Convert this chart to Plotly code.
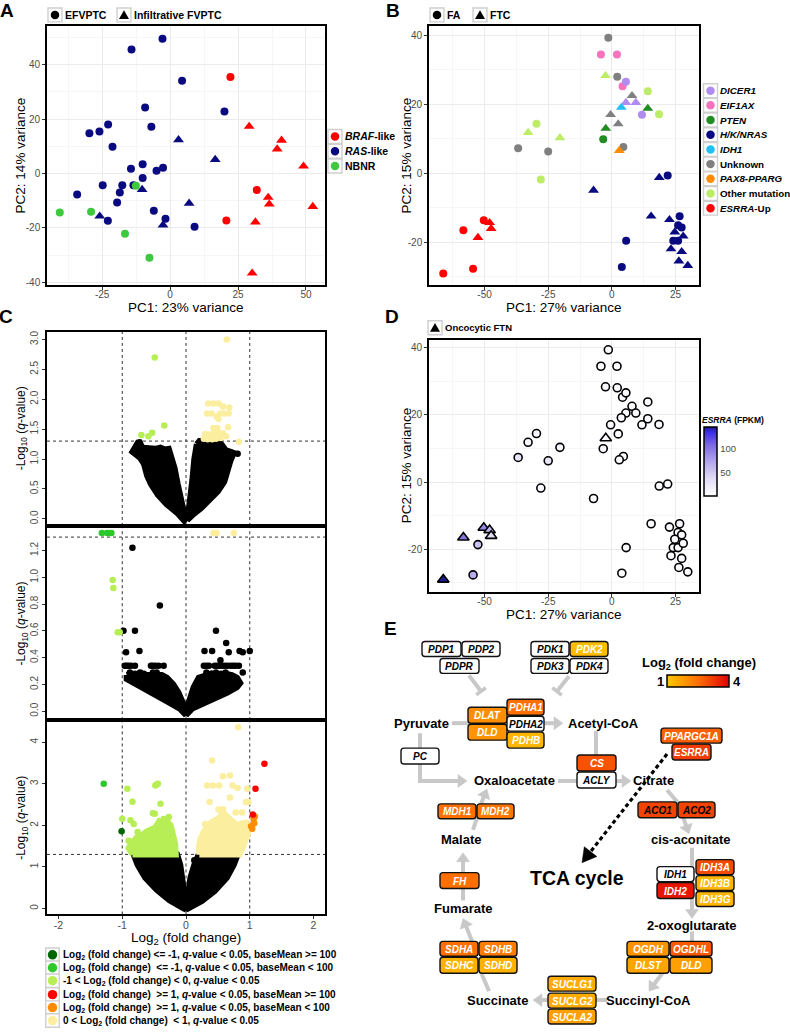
import math
import plotly.graph_objects as go
from plotly.colors import sample_colorscale

W, H = 790, 1033
FONT = "Liberation Sans, Arial, Helvetica, sans-serif"

# ======================= DATA =======================
# ---- Panel A: PCA of FVPTC samples ----
a_pc1 = [-2.8, -14.2, 4.4, 20.0, -9.2, -6.9, -22.8, -26.0, -29.7, -21.2, -10.1, -14.4, -2.6, -5.0,
         -10.1, -24.8, -17.6, -13.5, -18.5, -34.2, -19.5, -6.0, -22.9, -1.7, 9.0,
         3.1, 16.6, -10.3, 7.0, -25.9, -2.6,
         22.2, 31.9, 20.7,
         29.1, 41.0, 39.4, 49.1, 36.1, 36.5, 52.5, 31.4, 30.2,
         -40.6, -29.1, -12.6, -16.6, -7.6]
a_pc2 = [49.6, 45.6, 34.1, 22.8, 24.3, 17.2, 18.0, 15.4, 14.8, 9.8, 3.4, 1.7, 2.1, 1.0,
         -1.7, -4.3, -4.3, -4.3, -7.0, -7.7, -10.7, -13.7, -17.4, -16.7, -19.6,
         12.4, 5.1, -5.9, -11.0, -15.7, -19.0,
         35.5, -6.1, -17.3,
         17.3, 12.2, 9.0, 2.7, -8.8, -11.3, -12.2, -17.9, -36.7,
         -14.4, -14.1, -4.5, -22.2, -31.0]
a_class = ["RAS"] * 31 + ["BRAF"] * 12 + ["NBNR"] * 5
a_type = (["EFVPTC"] * 25 + ["Infiltrative FVPTC"] * 6 + ["EFVPTC"] * 3
          + ["Infiltrative FVPTC"] * 9 + ["EFVPTC"] * 5)
a_class_order = ["BRAF", "RAS", "NBNR"]
a_class_labels = ["<b><i>BRAF</i>-like</b>", "<b><i>RAS</i>-like</b>", "<b>NBNR</b>"]
a_type_labels = ["EFVPTC", "Infiltrative FVPTC"]

# ---- Panels B / D: PCA of FA / FTC samples ----
b_pc1 = [-1.4, 2.1, -36.8, -25.0, 4.5, 7.9, -0.5, 2.5,
         -4.3, 2.0, 4.2,
         5.5, 11.8, 5.5, 9.4,
         14.1, 18.5, -29.6, -27.9, -2.5, -32.9, -20.4,
         3.7,
         14.1, -2.4, -3.4,
         2.9,
         21.9, 26.6, 26.0, 27.4, 24.1, 26.0, 5.6, 3.9,
         18.6, -7.2, 15.4, 22.6, 24.7, 28.0, 23.2, 27.4, 26.3, 29.8,
         -58.3, -50.3, -66.2, -54.5,
         -52.6, -48.0, -47.4]
b_pc2 = [39.3, 28.0, 7.3, 6.3, 7.6, 22.5, 17.0, 14.3,
         34.4, 34.4, 25.2,
         26.5, 17.0, 20.5, 20.5,
         23.8, 17.1, 14.4, -1.8, 28.3, 11.8, 10.3,
         19.1,
         18.8, 13.0, 9.9,
         6.6,
         -0.6, -12.4, -15.0, -15.7, -19.5, -19.5, -19.5, -27.1,
         -1.2, -4.9, -12.4, -13.4, -17.0, -18.2, -21.9, -22.7, -25.4, -26.7,
         -16.5, -13.6, -29.0, -27.6,
         -18.6, -14.3, -16.0]
b_group = (["Unknown"] * 8 + ["EIF1AX"] * 3 + ["DICER1"] * 4 + ["Other mutation"] * 7 + ["IDH1"]
           + ["PTEN"] * 3 + ["PAX8-PPARG"] + ["H/K/NRAS"] * 18 + ["ESRRA-Up"] * 7)
b_type = (["FA"] * 5 + ["FTC"] * 3 + ["FA"] * 3 + ["FA", "FA", "FTC", "FTC"] + ["FA"] * 4 + ["FTC"] * 3
          + ["FTC"] + ["FTC", "FTC", "FA"] + ["FTC"] + ["FA"] * 8 + ["FTC"] * 10 + ["FA"] * 4 + ["FTC"] * 3)
d_oncocytic = [0] * 24 + [1] + [0] * 20 + [1, 1, 1, 0, 0, 1, 1]
d_esrra_fpkm = ([5, 5, 28, 26, 5, 5, 5, 5, 5, 5, 5, 5, 5, 5, 5, 5, 5, 8, 5, 5, 8, 8, 5, 5, 5, 5, 5]
                + [5] * 18 + [100, 90, 145, 68, 55, 60, 35])
b_group_order = ["DICER1", "EIF1AX", "PTEN", "H/K/NRAS", "IDH1", "Unknown", "PAX8-PPARG",
                 "Other mutation", "ESRRA-Up"]
b_group_labels = ["<b><i>DICER1</i></b>", "<b><i>EIF1AX</i></b>", "<b><i>PTEN</i></b>",
                  "<b><i>H/K/NRAS</i></b>", "<b><i>IDH1</i></b>", "<b>Unknown</b>",
                  "<b><i>PAX8-PPARG</i></b>", "<b>Other mutation</b>", "<b><i>ESRRA</i>-Up</b>"]

# ---- Panel C: volcano plots (dense regions as outlines + individual points) ----
c1_black_left_x = [-0.74, -0.68, -0.58, -0.48, -0.40, -0.33, -0.27, -0.22, -0.18, -0.13, -0.08, -0.04, -0.01,
                   -0.03, -0.14, -0.30, -0.44, -0.55, -0.61, -0.66, -0.72, -0.84, -0.80]
c1_black_left_y = [1.30, 1.19, 1.18, 1.17, 1.19, 1.16, 1.17, 1.02, 0.85, 0.58, 0.32, 0.12, 0.00,
                   -0.03, 0.10, 0.24, 0.40, 0.58, 0.72, 0.92, 1.02, 1.12, 1.20]
c1_black_right_x = [0.17, 0.21, 0.30, 0.40, 0.50, 0.56, 0.62, 0.70, 0.75, 0.70, 0.66, 0.60, 0.50, 0.38,
                    0.24, 0.10, 0.02, 0.04, 0.07, 0.10, 0.13]
c1_black_right_y = [1.25, 1.30, 1.30, 1.30, 1.29, 1.24, 1.15, 1.12, 1.10, 0.98, 0.80, 0.62, 0.46, 0.32,
                    0.18, 0.06, -0.02, 0.12, 0.35, 0.65, 1.00]
c1_black_x = [-0.73, -0.82, 0.81, 0.70]
c1_black_y = [1.28, 1.12, 1.09, 1.11]
c1_ltgreen_x = [-0.49, -0.34, -0.53, -0.59, -0.70]
c1_ltgreen_y = [2.70, 1.56, 1.44, 1.38, 1.40]
c1_ltyellow_x = [0.64, 0.35, 0.43, 0.51, 0.58, 0.68, 0.33, 0.40, 0.48, 0.54, 0.60, 0.67, 0.51, 0.66,
                 0.43, 0.49, 0.30, 0.37, 0.43, 0.51, 0.58, 0.63, 0.28, 0.34, 0.41, 0.47, 0.54, 0.83]
c1_ltyellow_y = [3.00, 1.93, 1.93, 1.93, 1.88, 1.86, 1.76, 1.76, 1.71, 1.76, 1.76, 1.76, 1.67, 1.53,
                 1.52, 1.52, 1.42, 1.41, 1.43, 1.44, 1.43, 1.38, 1.34, 1.33, 1.33, 1.34, 1.35, 1.29]

c2_black_left_x = [-0.93, -0.85, -0.72, -0.60, -0.48, -0.38, -0.30, -0.20, -0.12, -0.06, -0.02, 0.00,
                   -0.10, -0.25, -0.45, -0.65, -0.85, -0.93]
c2_black_left_y = [0.27, 0.28, 0.27, 0.27, 0.28, 0.27, 0.25, 0.20, 0.14, 0.08, 0.03, -0.03,
                   0.02, 0.06, 0.11, 0.16, 0.21, 0.24]
c2_black_right_x = [0.02, 0.06, 0.12, 0.20, 0.30, 0.40, 0.50, 0.62, 0.72, 0.80, 0.85, 0.80, 0.65, 0.45,
                    0.25, 0.10, 0.00]
c2_black_right_y = [0.03, 0.10, 0.18, 0.25, 0.27, 0.28, 0.27, 0.28, 0.27, 0.25, 0.21, 0.18, 0.14, 0.10,
                    0.06, 0.02, -0.03]
c2_black_x = [-0.96, -0.93, -0.90, -0.86, -0.80, -0.55, -0.52, -0.48, -0.43, -0.35,
              0.28, 0.32, 0.36, 0.45, 0.49, 0.53, 0.57, 0.61, 0.65, 0.70, 0.74, 0.78, 0.83,
              -0.88, -0.80, -0.72, -0.66, -0.52, -0.46, 0.32, 0.40, 0.47, 0.55, 0.62, 0.89,
              -0.84, -0.41, -0.98, -0.80, 0.47, -0.94, -0.73, 0.63, 0.29, 0.41, 0.67, 0.84, 0.89,
              1.00, 0.54]
c2_black_y = [0.34, 0.34, 0.34, 0.34, 0.34, 0.34, 0.34, 0.34, 0.34, 0.34,
              0.34, 0.34, 0.34, 0.34, 0.34, 0.34, 0.34, 0.34, 0.34, 0.34, 0.34, 0.34, 0.34,
              0.29, 0.28, 0.29, 0.28, 0.29, 0.29, 0.29, 0.28, 0.29, 0.28, 0.29, 0.29,
              1.22, 0.79, 0.60, 0.60, 0.60, 0.44, 0.45, 0.51, 0.45, 0.45, 0.44, 0.45, 0.44,
              0.45, 0.38]
c2_green_x = [-1.32, -1.24, -1.20, -1.17]
c2_green_y = [1.33, 1.33, 1.33, 1.33]
c2_ltgreen_x = [-1.15, -1.14, -1.07, -1.04]
c2_ltgreen_y = [0.98, 0.92, 0.59, 0.59]
c2_ltyellow_x = [0.43, 0.48, 0.75]
c2_ltyellow_y = [1.33, 1.33, 1.33]

c3_black_left_x = [-0.82, -0.14, -0.09, -0.05, -0.03, -0.01, 0.00, -0.08, -0.26, -0.46, -0.64, -0.76]
c3_black_left_y = [1.30, 1.30, 1.05, 0.74, 0.40, 0.10, -0.03, 0.04, 0.20, 0.45, 0.74, 1.05]
c3_black_right_x = [0.20, 0.81, 0.75, 0.64, 0.45, 0.25, 0.08, 0.00, 0.01, 0.03, 0.07, 0.13]
c3_black_right_y = [1.30, 1.30, 1.05, 0.74, 0.42, 0.18, 0.04, -0.03, 0.10, 0.40, 0.74, 1.05]
c3_black_x = [0.13]
c3_black_y = [1.16]
c3_ltgreen_area_x = [-0.84, -0.16, -0.17, -0.20, -0.24, -0.30, -0.36, -0.42, -0.48, -0.55, -0.62, -0.70,
                     -0.78, -0.86, -0.90]
c3_ltgreen_area_y = [1.30, 1.30, 1.55, 1.80, 2.00, 2.10, 2.05, 2.10, 1.95, 1.90, 1.85, 1.75, 1.70, 1.55,
                     1.45]
c3_ltgreen_x = [-0.92, -0.84, -1.00, -0.46, -0.48, -0.44, -0.40, -0.52, -0.49, -0.87, -0.82, -0.76, -0.90,
                -0.35, -0.30, -0.27]
c3_ltgreen_y = [2.88, 2.57, 2.16, 2.98, 2.96, 3.00, 2.52, 2.29, 2.28, 2.12, 2.03, 1.84, 1.63, 2.15, 2.12,
                2.20]
c3_ltyellow_area_x = [0.21, 0.84, 0.90, 0.95, 0.99, 0.96, 0.88, 0.80, 0.72, 0.65, 0.58, 0.50, 0.42, 0.35,
                      0.28, 0.22, 0.20]
c3_ltyellow_area_y = [1.30, 1.30, 1.50, 1.70, 1.90, 2.05, 2.05, 2.00, 2.10, 2.20, 2.30, 2.15, 2.10, 2.00,
                      1.85, 1.65, 1.45]
c3_ltyellow_x = [0.82, 0.41, 0.58, 0.69, 0.33, 0.42, 0.52, 0.73, 0.81, 0.96, 0.69, 0.37, 0.94, 0.98, 0.51,
                 0.58, 0.78, 0.88, 0.30, 0.94]
c3_ltyellow_y = [4.36, 3.56, 3.18, 3.20, 2.96, 2.96, 2.96, 2.96, 2.90, 2.88, 2.67, 2.56, 2.56, 2.56, 2.38,
                 2.39, 2.31, 2.31, 2.03, 2.06]
c3_red_x = [1.23, 1.09, 1.05]
c3_red_y = [3.48, 2.88, 2.26]
c3_orange_x = [1.08, 1.06, 1.02, 1.04, 1.07]
c3_orange_y = [2.21, 2.15, 1.98, 1.92, 2.05]
c3_dkgreen_x = [-1.01]
c3_dkgreen_y = [1.86]
c3_green_x = [-1.29]
c3_green_y = [3.00]

c_legend_labels = [
    "Log<sub>2</sub> (fold change) &lt;= -1, <i>q</i>-value &lt; 0.05, baseMean &gt;= 100",
    "Log<sub>2</sub> (fold change)  &lt;= -1, <i>q</i>-value &lt; 0.05, baseMean &lt; 100",
    "-1 &lt; Log<sub>2</sub> (fold change) &lt; 0, <i>q</i>-value &lt; 0.05",
    "Log<sub>2</sub> (fold change)  &gt;= 1, <i>q</i>-value &lt; 0.05, baseMean &gt;= 100",
    "Log<sub>2</sub> (fold change)  &gt;= 1, <i>q</i>-value &lt; 0.05, baseMean &lt; 100",
    "0 &lt; Log<sub>2</sub> (fold change)  &lt; 1, <i>q</i>-value &lt; 0.05",
]

# ---- Panel E: TCA cycle gene fold changes (None = not significant) ----
e_gene_ids = ["PDP1", "PDP2", "PDPR", "PDK1", "PDK2", "PDK3", "PDK4", "DLAT", "DLD_a", "PDHA1", "PDHA2",
              "PDHB", "PC", "CS", "ACLY", "PPARGC1A", "ESRRA", "ACO1", "ACO2", "MDH1", "MDH2", "IDH1",
              "IDH2", "IDH3A", "IDH3B", "IDH3G", "FH", "SDHA", "SDHB", "SDHC", "SDHD", "OGDH", "OGDHL",
              "DLST", "DLD_b", "SUCLG1", "SUCLG2", "SUCLA2"]
e_log2fc = [None, None, None, None, 1.2, None, None, 2.0, 1.9, 2.5, None,
            1.3, None, 2.9, None, 2.7, 3.2, 3.1, 3.1, 2.5, 2.4, None,
            3.7, 3.0, 1.3, 1.3, 2.5, 2.5, 2.3, 1.4, 1.4, 1.9, 2.8,
            1.6, 1.7, 1.5, 1.5, 1.7]
e_dark_text = ["ACO1", "ACO2"]
e_metabolites = ["Pyruvate", "Acetyl-CoA", "Oxaloacetate", "Citrate", "Malate", "cis-aconitate",
                 "Fumarate", "2-oxoglutarate", "Succinate", "Succinyl-CoA"]

# ======================= STYLE / LAYOUT =======================
TICKC = "#4d4d4d"
GRID = "#ebebeb"
GRIDMINOR = "#f4f4f4"
A_COL = {"BRAF": "#ff0000", "RAS": "#0a0a80", "NBNR": "#3ec83e"}
B_COL = {"DICER1": "#b08cf0", "EIF1AX": "#f572bd", "PTEN": "#228b22", "H/K/NRAS": "#0a0a80",
         "IDH1": "#22c0f5", "Unknown": "#808080", "PAX8-PPARG": "#ff8c00", "Other mutation": "#bdec66",
         "ESRRA-Up": "#ff0000"}
C_COL = {"dkgreen": "#006400", "green": "#2ec82e", "ltgreen": "#b8ee55", "red": "#ff0000",
         "orange": "#ff8c00", "ltyellow": "#fcee9f"}
D_SCALE = [[0, "#ffffff"], [0.25, "#e2dcf7"], [0.5, "#b3a5ec"], [0.75, "#7a66e0"], [0.92, "#3d2ee8"],
           [1, "#1c1c8c"]]
E_SCALE = [[0, "#ffc800"], [0.5, "#ff7000"], [1, "#e00000"]]


def dx(a, b):
    return [a / W, b / W]


def dy(top, bottom):
    return [1 - bottom / H, 1 - top / H]


fig = go.Figure()

# ---- Panel A traces ----
for cls in ["RAS", "BRAF", "NBNR"]:
    for typ, sym, sz in [("EFVPTC", "circle", 8), ("Infiltrative FVPTC", "triangle-up", 9.5)]:
        idx = [i for i in range(len(a_pc1)) if a_class[i] == cls and a_type[i] == typ]
        if not idx:
            continue
        fig.add_trace(go.Scatter(x=[a_pc1[i] for i in idx], y=[a_pc2[i] for i in idx], mode="markers",
                                 marker=dict(symbol=sym, size=sz, color=A_COL[cls], line=dict(width=0)),
                                 xaxis="x", yaxis="y", hoverinfo="skip", showlegend=False))

# ---- Panel B traces ----
for g in ["Unknown", "EIF1AX", "DICER1", "Other mutation", "IDH1", "PTEN", "PAX8-PPARG", "H/K/NRAS",
          "ESRRA-Up"]:
    for typ, sym, sz in [("FA", "circle", 8), ("FTC", "triangle-up", 9.5)]:
        idx = [i for i in range(len(b_pc1)) if b_group[i] == g and b_type[i] == typ]
        if not idx:
            continue
        fig.add_trace(go.Scatter(x=[b_pc1[i] for i in idx], y=[b_pc2[i] for i in idx], mode="markers",
                                 marker=dict(symbol=sym, size=sz, color=B_COL[g], line=dict(width=0)),
                                 xaxis="x2", yaxis="y2", hoverinfo="skip", showlegend=False))

# ---- Panel D traces ----
for onco, sym, sz in [(0, "circle", 8), (1, "triangle-up", 10)]:
    idx = [i for i in range(len(b_pc1)) if d_oncocytic[i] == onco]
    fig.add_trace(go.Scatter(x=[b_pc1[i] for i in idx], y=[b_pc2[i] for i in idx], mode="markers",
                             marker=dict(symbol=sym, size=sz, color=[d_esrra_fpkm[i] for i in idx],
                                         coloraxis="coloraxis", line=dict(color="black", width=1.6)),
                             xaxis="x3", yaxis="y3", hoverinfo="skip", showlegend=False))


# ---- Panel C traces ----
def c_area(xs, ys, color, xa, ya):
    fig.add_trace(go.Scatter(x=xs + [xs[0]], y=ys + [ys[0]], mode="lines", fill="toself", fillcolor=color,
                             line=dict(color=color, width=6), xaxis=xa, yaxis=ya, hoverinfo="skip",
                             showlegend=False))


def c_pts(xs, ys, color, xa, ya):
    fig.add_trace(go.Scatter(x=xs, y=ys, mode="markers", marker=dict(size=6.5, color=color, line=dict(width=0)),
                             xaxis=xa, yaxis=ya, hoverinfo="skip", showlegend=False))


c_area(c1_black_left_x, c1_black_left_y, "black", "x4", "y4")
c_area(c1_black_right_x, c1_black_right_y, "black", "x4", "y4")
c_pts(c1_black_x, c1_black_y, "black", "x4", "y4")
c_pts(c1_ltgreen_x, c1_ltgreen_y, C_COL["ltgreen"], "x4", "y4")
c_pts(c1_ltyellow_x, c1_ltyellow_y, C_COL["ltyellow"], "x4", "y4")

c_area(c2_black_left_x, c2_black_left_y, "black", "x5", "y5")
c_area(c2_black_right_x, c2_black_right_y, "black", "x5", "y5")
c_pts(c2_black_x, c2_black_y, "black", "x5", "y5")
c_pts(c2_green_x, c2_green_y, C_COL["green"], "x5", "y5")
c_pts(c2_ltgreen_x, c2_ltgreen_y, C_COL["ltgreen"], "x5", "y5")
c_pts(c2_ltyellow_x, c2_ltyellow_y, C_COL["ltyellow"], "x5", "y5")

c_area(c3_black_left_x, c3_black_left_y, "black", "x6", "y6")
c_area(c3_black_right_x, c3_black_right_y, "black", "x6", "y6")
c_pts(c3_black_x, c3_black_y, "black", "x6", "y6")
c_area(c3_ltgreen_area_x, c3_ltgreen_area_y, C_COL["ltgreen"], "x6", "y6")
c_area(c3_ltyellow_area_x, c3_ltyellow_area_y, C_COL["ltyellow"], "x6", "y6")
c_pts(c3_ltgreen_x, c3_ltgreen_y, C_COL["ltgreen"], "x6", "y6")
c_pts(c3_ltyellow_x, c3_ltyellow_y, C_COL["ltyellow"], "x6", "y6")
c_pts(c3_dkgreen_x, c3_dkgreen_y, C_COL["dkgreen"], "x6", "y6")
c_pts(c3_green_x, c3_green_y, C_COL["green"], "x6", "y6")
c_pts(c3_orange_x, c3_orange_y, C_COL["orange"], "x6", "y6")
c_pts(c3_red_x, c3_red_y, C_COL["red"], "x6", "y6")

# ---- overlay (pixel) axis: legends, diagram, colorbar carrier ----
fig.add_trace(go.Scatter(x=[-100, -100], y=[-100, -100], mode="markers",
                         marker=dict(size=1, color=[1, 4], coloraxis="coloraxis2"),
                         xaxis="x7", yaxis="y7", hoverinfo="skip", showlegend=False))

shapes, annots = [], []
OV = dict(xref="x7", yref="y7")


def add_text(x, y, t, size, color="black", xanchor="left", angle=0):
    annots.append(dict(x=x, y=y, text=t, showarrow=False, xanchor=xanchor, yanchor="middle", textangle=angle,
                       borderpad=0, font=dict(family=FONT, size=size, color=color), **OV))


def add_key(cx, cy, s=14):
    shapes.append(dict(type="rect", x0=cx - s / 2, x1=cx + s / 2, y0=cy - s / 2, y1=cy + s / 2,
                       fillcolor="white", line=dict(color="#cfcfcf", width=1.4), **OV))


def add_circ(cx, cy, d, fill, lc=None, lw=0):
    shapes.append(dict(type="circle", x0=cx - d / 2, x1=cx + d / 2, y0=cy - d / 2, y1=cy + d / 2,
                       fillcolor=fill, line=dict(color=lc or fill, width=lw), **OV))


def add_tri(cx, cy, s, fill, lc=None, lw=0):
    h = s * 0.866
    p = f"M{cx},{cy - h * 0.6} L{cx + s / 2},{cy + h * 0.4} L{cx - s / 2},{cy + h * 0.4} Z"
    shapes.append(dict(type="path", path=p, fillcolor=fill, line=dict(color=lc or fill, width=lw), **OV))


# panel letters
for lt, (x, y) in zip("ABCDE", [(7, 10), (393, 10), (6, 317), (392, 317), (390, 630)]):
    add_text(x, y, f"<b>{lt}</b>", 19, xanchor="center")

# --- legend A ---
add_key(55, 14); add_circ(55, 14, 8.5, "black")
add_text(64, 14, "<b>" + a_type_labels[0] + "</b>", 10.5)
add_key(124, 14); add_tri(124, 14.5, 10, "black")
add_text(133, 14, "<b>" + a_type_labels[1] + "</b>", 10.5)
for k, (cls, lab) in enumerate(zip(a_class_order, a_class_labels)):
    cy = 136 + 14.8 * k
    add_key(335, cy); add_circ(335, cy, 8.5, A_COL[cls])
    add_text(344, cy, lab, 10.5)

# --- legend B ---
add_key(437, 14); add_circ(437, 14, 8.5, "black")
add_text(446, 14, "<b>FA</b>", 10.5)
add_key(480, 14); add_tri(480, 14.5, 10, "black")
add_text(489, 14, "<b>FTC</b>", 10.5)
for k, (g, lab) in enumerate(zip(b_group_order, b_group_labels)):
    cy = 90 + 14.75 * k
    add_key(710.5, cy); add_circ(710.5, cy, 8.5, B_COL[g])
    add_text(718.5, cy, lab, 9.8)

# --- legend D ---
add_key(435, 328); add_tri(435, 328.5, 10, "black")
add_text(444, 328, "<b>Oncocytic FTN</b>", 9.5)
add_text(701, 420.5, "<b><i>ESRRA</i> (FPKM)</b>", 8.5)

# --- legend C ---
c_leg_cols = [C_COL["dkgreen"], C_COL["green"], C_COL["ltgreen"], C_COL["red"], C_COL["orange"],
              C_COL["ltyellow"]]
c_leg_y = [957.5, 970.5, 983.5, 997.5, 1010.5, 1023.5]
for col, lab, cy in zip(c_leg_cols, c_legend_labels, c_leg_y):
    add_key(52.5, cy, 13.5); add_circ(52.5, cy, 9.5, col)
    add_text(62, cy, "<b>" + lab + "</b>", 10)

# --- axis titles ---
add_text(186, 308, "PC1: 23% variance", 13.5, xanchor="center")
add_text(20, 155, "PC2: 14% variance", 13.5, xanchor="center", angle=-90)
add_text(564, 308, "PC1: 27% variance", 13.5, xanchor="center")
add_text(406, 155, "PC2: 15% variance", 13.5, xanchor="center", angle=-90)
add_text(564, 616, "PC1: 27% variance", 13.5, xanchor="center")
add_text(406, 466, "PC2: 15% variance", 13.5, xanchor="center", angle=-90)
for cy in [429, 625, 820]:
    add_text(22, cy, "-Log<sub>10</sub> (<i>q</i>-value)", 12, xanchor="center", angle=-90)
add_text(186, 941, "Log<sub>2</sub> (fold change)", 13.5, xanchor="center")

# --- Panel E diagram ---
GRAY = "#c8c8c8"


def add_arrow(pts, head=True, color=GRAY, width=4, hl=9, hw=6.5, dash=None):
    pts = list(pts)
    tri = None
    if head:
        (xa, ya), (xb, yb) = pts[-2], pts[-1]
        L = math.hypot(xb - xa, yb - ya)
        ux, uy = (xb - xa) / L, (yb - ya) / L
        bx, by = xb - ux * hl, yb - uy * hl
        pts[-1] = (bx + ux, by + uy)
        tri = f"M{xb},{yb} L{bx - uy * hw},{by + ux * hw} L{bx + uy * hw},{by - ux * hw} Z"
    path = "M" + " L".join(f"{x},{y}" for x, y in pts)
    ln = dict(color=color, width=width)
    if dash:
        ln["dash"] = dash
    shapes.append(dict(type="path", path=path, line=ln, fillcolor="rgba(0,0,0,0)", **OV))
    if tri:
        shapes.append(dict(type="path", path=tri, fillcolor=color, line=dict(color=color, width=0.5), **OV))


E_ARROWS = [
    ([(452, 725), (469, 725)], False),
    ([(543, 725), (563, 725)], True),
    ([(420, 735), (420, 783), (467, 783)], True),
    ([(596, 733), (596, 758)], False),
    ([(558, 783), (578, 783)], False),
    ([(614, 783), (631, 783)], True),
    ([(667, 792), (679, 806)], False),
    ([(683, 819), (689, 836)], True),
    ([(692, 850), (692, 921)], True),
    ([(692, 934), (692, 945)], False),
    ([(663, 975), (649, 994)], True),
    ([(607, 1003), (533, 1003)], True),
    ([(489, 994), (481, 975)], False),
    ([(472, 944), (463, 921)], True),
    ([(463, 903), (463, 855)], True),
    ([(473, 832), (477, 820)], False),
    ([(481, 806), (487, 791)], True),
]
for pts, hd in E_ARROWS:
    add_arrow(pts, hd)

for (p0, p1) in [((469, 677), (481, 693)), ((569, 678), (557, 693))]:
    add_arrow([p0, p1], head=False)
    L = math.hypot(p1[0] - p0[0], p1[1] - p0[1])
    ux, uy = (p1[0] - p0[0]) / L, (p1[1] - p0[1]) / L
    shapes.append(dict(type="path", path=f"M{p1[0] - uy * 6},{p1[1] + ux * 6} L{p1[0] + uy * 6},{p1[1] - ux * 6}",
                       line=dict(color=GRAY, width=3.5), **OV))

add_arrow([(667, 756), (582, 865)], head=True, color="black", width=3.2, hl=14, hw=8, dash="4px,3px")

E_BOX = {
    "PDP1": (422, 643, 461, 658), "PDP2": (462, 643, 500, 658), "PDPR": (440, 660, 479, 675),
    "PDK1": (531, 643, 569, 658), "PDK2": (570, 643, 608, 658), "PDK3": (531, 660, 569, 675),
    "PDK4": (570, 660, 608, 675),
    "DLAT": (468, 709, 507, 725), "DLD_a": (468, 726, 507, 742),
    "PDHA1": (507, 701, 544, 717), "PDHA2": (507, 718, 544, 733), "PDHB": (507, 734, 544, 750),
    "PC": (401, 750, 439, 766), "CS": (577, 757, 616, 773), "ACLY": (577, 774, 616, 790),
    "PPARGC1A": (661, 730, 722, 745), "ESRRA": (672, 746, 711, 762),
    "ACO1": (638, 804, 677, 820), "ACO2": (678, 804, 715, 820),
    "MDH1": (438, 806, 476, 821), "MDH2": (477, 806, 514, 821),
    "IDH1": (657, 869, 694, 884), "IDH2": (657, 885, 694, 901),
    "IDH3A": (696, 862, 734, 877), "IDH3B": (696, 878, 734, 893), "IDH3G": (696, 894, 734, 909),
    "FH": (440, 875, 479, 891),
    "SDHA": (440, 944, 478, 959), "SDHB": (479, 944, 517, 959),
    "SDHC": (440, 960, 478, 976), "SDHD": (479, 960, 517, 976),
    "OGDH": (627, 944, 669, 959), "OGDHL": (670, 944, 712, 959),
    "DLST": (627, 960, 669, 976), "DLD_b": (670, 960, 712, 976),
    "SUCLG1": (548, 979, 596, 994), "SUCLG2": (548, 996, 596, 1011), "SUCLA2": (548, 1012, 596, 1027),
}


def rrect(x0, y0, x1, y1, r=3):
    return (f"M{x0 + r},{y0} L{x1 - r},{y0} Q{x1},{y0} {x1},{y0 + r} L{x1},{y1 - r} Q{x1},{y1} {x1 - r},{y1} "
            f"L{x0 + r},{y1} Q{x0},{y1} {x0},{y1 - r} L{x0},{y0 + r} Q{x0},{y0} {x0 + r},{y0} Z")


for gid, fc in zip(e_gene_ids, e_log2fc):
    x0, y0, x1, y1 = E_BOX[gid]
    if fc is None:
        fill, tcol = "white", "black"
    else:
        fill = sample_colorscale(E_SCALE, [(fc - 1) / 3])[0]
        tcol = "black" if gid in e_dark_text else "white"
    shapes.append(dict(type="path", path=rrect(x0, y0, x1, y1), fillcolor=fill,
                       line=dict(color="#111111", width=1.4), **OV))
    label = gid.split("_")[0]
    add_text((x0 + x1) / 2, (y0 + y1) / 2 + 0.5, f"<b><i>{label}</i></b>", 10, tcol, "center")

E_MET_POS = {"Pyruvate": (421, 725), "Acetyl-CoA": (603, 725), "Oxaloacetate": (514, 783),
             "Citrate": (653, 783), "Malate": (461, 842), "cis-aconitate": (690, 842),
             "Fumarate": (463, 911), "2-oxoglutarate": (692, 928), "Succinate": (497, 1003),
             "Succinyl-CoA": (648, 1003)}
for m in e_metabolites:
    x, y = E_MET_POS[m]
    add_text(x, y, f"<b>{m}</b>", 13, xanchor="center")
add_text(577, 880, "<b>TCA cycle</b>", 19.5, xanchor="center")
add_text(699, 665, "<b>Log<sub>2</sub> (fold change)</b>", 13, xanchor="center")
add_text(660, 683, "<b>1</b>", 13, xanchor="center")
add_text(737, 683, "<b>4</b>", 13, xanchor="center")

# ---- Panel C reference lines ----
for ax in ["4", "5", "6"]:
    for xv in [-1, 0, 1]:
        shapes.append(dict(type="line", xref=f"x{ax}", yref=f"y{ax} domain", x0=xv, x1=xv, y0=0, y1=1,
                           line=dict(color="#333333", width=1, dash="dot"), layer="below"))
    shapes.append(dict(type="line", xref=f"x{ax} domain", yref=f"y{ax}", x0=0, x1=1, y0=1.3, y1=1.3,
                       line=dict(color="#333333", width=1, dash="dot"), layer="below"))


# ---- axes ----
def pca_ax(domain, rng, tv, minor, anchor, standoff=0):
    return dict(domain=domain, range=rng, anchor=anchor, tickmode="array", tickvals=tv,
                ticktext=[str(v) for v in tv], showgrid=True, gridcolor=GRID, gridwidth=1,
                minor=dict(tickmode="array", tickvals=minor, showgrid=True, gridcolor=GRIDMINOR,
                           gridwidth=0.8, ticks=""),
                zeroline=False, showline=True, mirror=True, linecolor="black", linewidth=1.8,
                ticks="outside", ticklen=3, tickcolor="#333333", ticklabelstandoff=standoff,
                tickfont=dict(size=10, color=TICKC, family=FONT))


def c_xax(domain, anchor, labels):
    return dict(domain=domain, range=[-2.18, 2.18], anchor=anchor, showgrid=False, zeroline=False,
                showline=True, mirror=True, linecolor="black", linewidth=2, tickmode="array",
                tickvals=[-2, -1, 0, 1, 2], ticktext=["-2", "-1", "0", "1", "2"],
                ticks="outside" if labels else "", ticklen=3, tickcolor="#333333", showticklabels=labels,
                ticklabelstandoff=-3, tickfont=dict(size=10.5, color=TICKC, family=FONT))


def c_yax(domain, rng, tv, tt, anchor):
    return dict(domain=domain, range=rng, anchor=anchor, showgrid=False, zeroline=False, showline=True,
                mirror=True, linecolor="black", linewidth=2, tickmode="array", tickvals=tv, ticktext=tt,
                tickangle=-90, ticks="outside", ticklen=3, tickcolor="#333333",
                tickfont=dict(size=10, color=TICKC, family=FONT))


fig.update_layout(
    width=W, height=H, margin=dict(l=0, r=0, t=0, b=0), paper_bgcolor="white",
    plot_bgcolor="rgba(0,0,0,0)", showlegend=False, font=dict(family=FONT),
    xaxis=pca_ax(dx(47, 325), [-45.3, 57], [-25, 0, 25, 50], [-37.5, -12.5, 12.5, 37.5], "y", -4),
    yaxis=pca_ax(dy(25, 285), [-41, 54.3], [-40, -20, 0, 20, 40], [-30, -10, 10, 30, 50], "x"),
    xaxis2=pca_ax(dx(429, 699), [-71.8, 34.2], [-50, -25, 0, 25], [-62.5, -37.5, -12.5, 12.5], "y2", -4),
    yaxis2=pca_ax(dy(25, 285), [-32.3, 42.7], [-20, 0, 20, 40], [-30, -10, 10, 30], "x2"),
    xaxis3=pca_ax(dx(429, 699), [-71.8, 34.2], [-50, -25, 0, 25], [-62.5, -37.5, -12.5, 12.5], "y3", -4),
    yaxis3=pca_ax(dy(340, 593), [-32.6, 42.3], [-20, 0, 20, 40], [-30, -10, 10, 30], "x3"),
    xaxis4=c_xax(dx(47, 325), "y4", False),
    yaxis4=c_yax(dy(332, 527), [-0.12, 3.13], [0, 0.5, 1, 1.5, 2, 2.5, 3],
                 ["0.0", "0.5", "1.0", "1.5", "2.0", "2.5", "3.0"], "x4"),
    xaxis5=c_xax(dx(47, 325), "y5", False),
    yaxis5=c_yax(dy(527, 722), [-0.067, 1.383], [0, 0.2, 0.4, 0.6, 0.8, 1.0, 1.2],
                 ["0.0", "0.2", "0.4", "0.6", "0.8", "1.0", "1.2"], "x5"),
    xaxis6=c_xax(dx(47, 325), "y6", True),
    yaxis6=c_yax(dy(722, 917), [-0.144, 4.53], [0, 1, 2, 3, 4], ["0", "1", "2", "3", "4"], "x6"),
    xaxis7=dict(domain=[0, 1], range=[0, W], anchor="y7", visible=False, fixedrange=True),
    yaxis7=dict(domain=[0, 1], range=[H, 0], anchor="x7", visible=False, fixedrange=True),
    coloraxis=dict(colorscale=D_SCALE, cmin=0, cmax=145,
                   colorbar=dict(orientation="v", thickness=13, thicknessmode="pixels", len=69, lenmode="pixels",
                                 x=704 / W, xanchor="left", y=1 - 428 / H, yanchor="top", xpad=0, ypad=0,
                                 outlinewidth=1.5, outlinecolor="black", tickvals=[50, 100], ticks="",
                                 tickfont=dict(size=9.5, color=TICKC, family=FONT), title=dict(text=""))),
    coloraxis2=dict(colorscale=E_SCALE, cmin=1, cmax=4,
                    colorbar=dict(orientation="h", thickness=12, thicknessmode="pixels", len=62, lenmode="pixels",
                                  x=667 / W, xanchor="left", y=1 - 677 / H, yanchor="top", xpad=0, ypad=0,
                                  outlinewidth=1.5, outlinecolor="black", showticklabels=False, ticks="",
                                  title=dict(text=""))),
    shapes=shapes, annotations=annots,
)

fig.write_html("out.html", config={"displayModeBar": False, "staticPlot": True},
               post_script="document.body.style.margin='0';document.body.style.overflow='hidden';")
